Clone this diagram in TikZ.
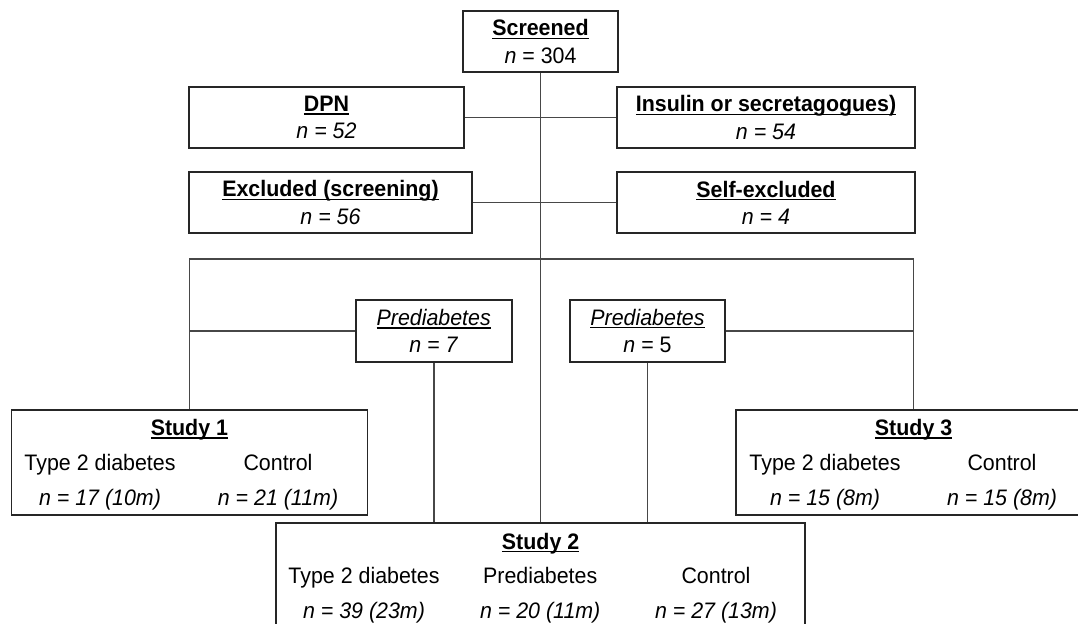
\documentclass[tikz,border=0pt]{standalone}
\usepackage{fontspec}
\setmainfont{Liberation Sans}[FakeStretch=0.955]
\newcommand\ulw[1]{\setbox0\hbox{#1}\rlap{\rule[-1.5pt]{\wd0}{0.65pt}}\box0}
\begin{document}
\begin{tikzpicture}[x=0.5pt,y=-0.5pt,
  font=\fontsize{11.2}{13.6}\selectfont,
  box/.style={draw=black!85,line width=0.9pt,inner sep=0pt,align=center,fill=white},
  conn/.style={draw=black!72,line width=0.8pt},
  lbl/.style={inner sep=0pt,anchor=base}]
\useasboundingbox (0,0) rectangle (1078,623);
\clip (0,0) rectangle (1078,623);
% boxes
\node[box,minimum width=77.5pt,minimum height=30.5pt] (scr) at (540.5,41.5) {\ulw{\bfseries Screened}\\\textit{n} = 304};
\node[box,minimum width=137.5pt,minimum height=30.5pt] (dpn) at (326.5,117.5) {\ulw{\bfseries DPN}\\\textit{n = 52}};
\node[box,minimum width=149pt,minimum height=30.5pt] (ins) at (766,117.5) {\ulw{\bfseries Insulin or secretagogues)}\\\textit{n = 54}};
\node[box,minimum width=141.5pt,minimum height=30.5pt] (exc) at (330.5,202.5) {\ulw{\bfseries Excluded (screening)}\\\textit{n = 56}};
\node[box,minimum width=149pt,minimum height=30.5pt] (self) at (766,202.5) {\ulw{\bfseries Self-excluded}\\\textit{n = 4}};
\node[box,minimum width=78pt,minimum height=31pt] (p7) at (433.7,331) {\ulw{\itshape Prediabetes}\\\textit{n = 7}};
\node[box,minimum width=77.5pt,minimum height=31pt] (p5) at (647.5,331) {\ulw{\itshape Prediabetes}\\\textit{n} = 5};
\node[box,minimum width=178pt,minimum height=52.5pt] (s1) at (189.4,462.5) {};
\node[box,minimum width=178pt,minimum height=52.5pt] (s3) at (913.6,462.5) {};
\node[box,minimum width=264.4pt,minimum height=52.5pt] (s2) at (540.6,575.8) {};
% study 1 texts
\node[lbl] (s1t) at (189.4,435.5) {\ulw{\bfseries Study 1}};
\node[lbl] (s1a) at (100,470) {Type 2 diabetes};
\node[lbl] (s1b) at (278,470) {Control};
\node[lbl] (s1c) at (100,505.5) {\textit{n = 17 (10m)}};
\node[lbl] (s1d) at (278,505.5) {\textit{n = 21 (11m)}};
% study 3 texts
\node[lbl] (s3t) at (913.6,435.5) {\ulw{\bfseries Study 3}};
\node[lbl] (s3a) at (825,470) {Type 2 diabetes};
\node[lbl] (s3b) at (1002,470) {Control};
\node[lbl] (s3c) at (825,505.5) {\textit{n = 15 (8m)}};
\node[lbl] (s3d) at (1002,505.5) {\textit{n = 15 (8m)}};
% study 2 texts
\node[lbl] (s2t) at (540.6,549.3) {\ulw{\bfseries Study 2}};
\node[lbl] (s2a) at (364,583.6) {Type 2 diabetes};
\node[lbl] (s2b) at (540.2,583.6) {Prediabetes};
\node[lbl] (s2c) at (716,583.6) {Control};
\node[lbl] (s2d) at (364,618.3) {\textit{n = 39 (23m)}};
\node[lbl] (s2e) at (540.2,618.3) {\textit{n = 20 (11m)}};
\node[lbl] (s2f) at (716,618.3) {\textit{n = 27 (13m)}};
% connectors
\coordinate (tl) at (189.4,259);
\coordinate (tr) at (913.6,259);
\draw[conn] (scr.south) -- (scr.south |- s2.north);
\draw[conn] (dpn.east) -- (ins.west);
\draw[conn] (exc.east) -- (self.west);
\draw[conn] (s1.north) -- (tl) -- (tr) -- (s3.north);
\draw[conn] (p7.west) -- (p7.west -| tl);
\draw[conn] (p5.east) -- (p5.east -| tr);
\draw[conn] (p7.south) -- (p7.south |- s2.north);
\draw[conn] (p5.south) -- (p5.south |- s2.north);
\end{tikzpicture}
\end{document}
